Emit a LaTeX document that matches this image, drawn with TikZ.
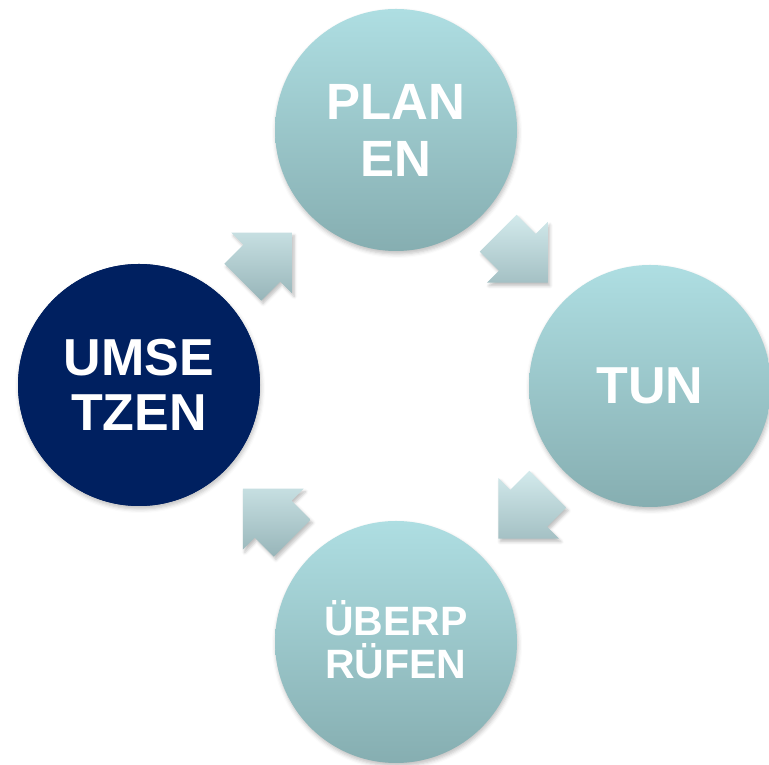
\documentclass[tikz,border=0pt]{standalone}
\usepackage{fontspec}
\setmainfont{Liberation Sans}
\usetikzlibrary{calc,shadows.blur}

\definecolor{circtop}{RGB}{174,222,226}
\definecolor{circbot}{RGB}{134,174,177}
\definecolor{arrtop}{RGB}{212,235,237}
\definecolor{arrbot}{RGB}{150,180,184}
\definecolor{navy}{RGB}{0,32,96}

\tikzset{
  phase/.style={circle, minimum size=242pt, inner sep=0pt, align=center,
    text=white, font=\bfseries\fontsize{51}{57}\selectfont,
    top color=circtop, bottom color=circbot,
    blur shadow={shadow xshift=1pt, shadow yshift=-3pt,
      shadow blur radius=4pt, shadow opacity=25}},
  current/.style={phase, fill=navy, top color=navy, bottom color=navy},
  arrowshadow/.style={blur shadow={shadow xshift=2pt, shadow yshift=-3pt,
      shadow blur radius=3pt, shadow opacity=25}},
  arrowfill/.style={top color=arrtop, bottom color=arrbot}
}

% block arrow outline, midpoint at origin, pointing along +x
\def\arrowpath{(-35,-26) -- (-8,-26) -- (-8,-43) -- (35,0) -- (-8,43)
  -- (-8,26) -- (-35,26) -- cycle}

% arrow halfway between two phases, vertical gradient on the page
\newcommand{\blockarrow}[3]{%
  \coordinate (m) at ($(#1)!0.5!(#2)$);
  \path[arrowshadow, shift={(m)}, rotate=#3] \arrowpath;
  \begin{scope}
    \clip[shift={(m)}, rotate=#3] \arrowpath;
    \shade[arrowfill] ($(m)+(-45,-45)$) rectangle ($(m)+(45,45)$);
  \end{scope}}

\begin{document}
\begin{tikzpicture}[x=1pt,y=1pt]
  \useasboundingbox (0,0) rectangle (769,765);

  % the four phases
  \node[phase] (planen) at (396,635) {PLAN\\EN};
  \node[phase, font=\bfseries\fontsize{52}{57}\selectfont] (tun) at (650,379)
    {TUN};
  \node[phase, font=\bfseries\fontsize{41}{43}\selectfont,
    text height=73pt, text depth=0pt] (pruefen) at (396,123)
    {ÜBERP\\RÜFEN};
  \node[current, font=\bfseries\fontsize{52}{55}\selectfont] (umsetzen)
    at (139,380) {UMSE\\TZEN};

  % arrows between them
  \blockarrow{umsetzen}{planen}{45}
  \blockarrow{planen}{tun}{-45}
  \blockarrow{tun}{pruefen}{-135}
  \blockarrow{pruefen}{umsetzen}{135}
\end{tikzpicture}
\end{document}
